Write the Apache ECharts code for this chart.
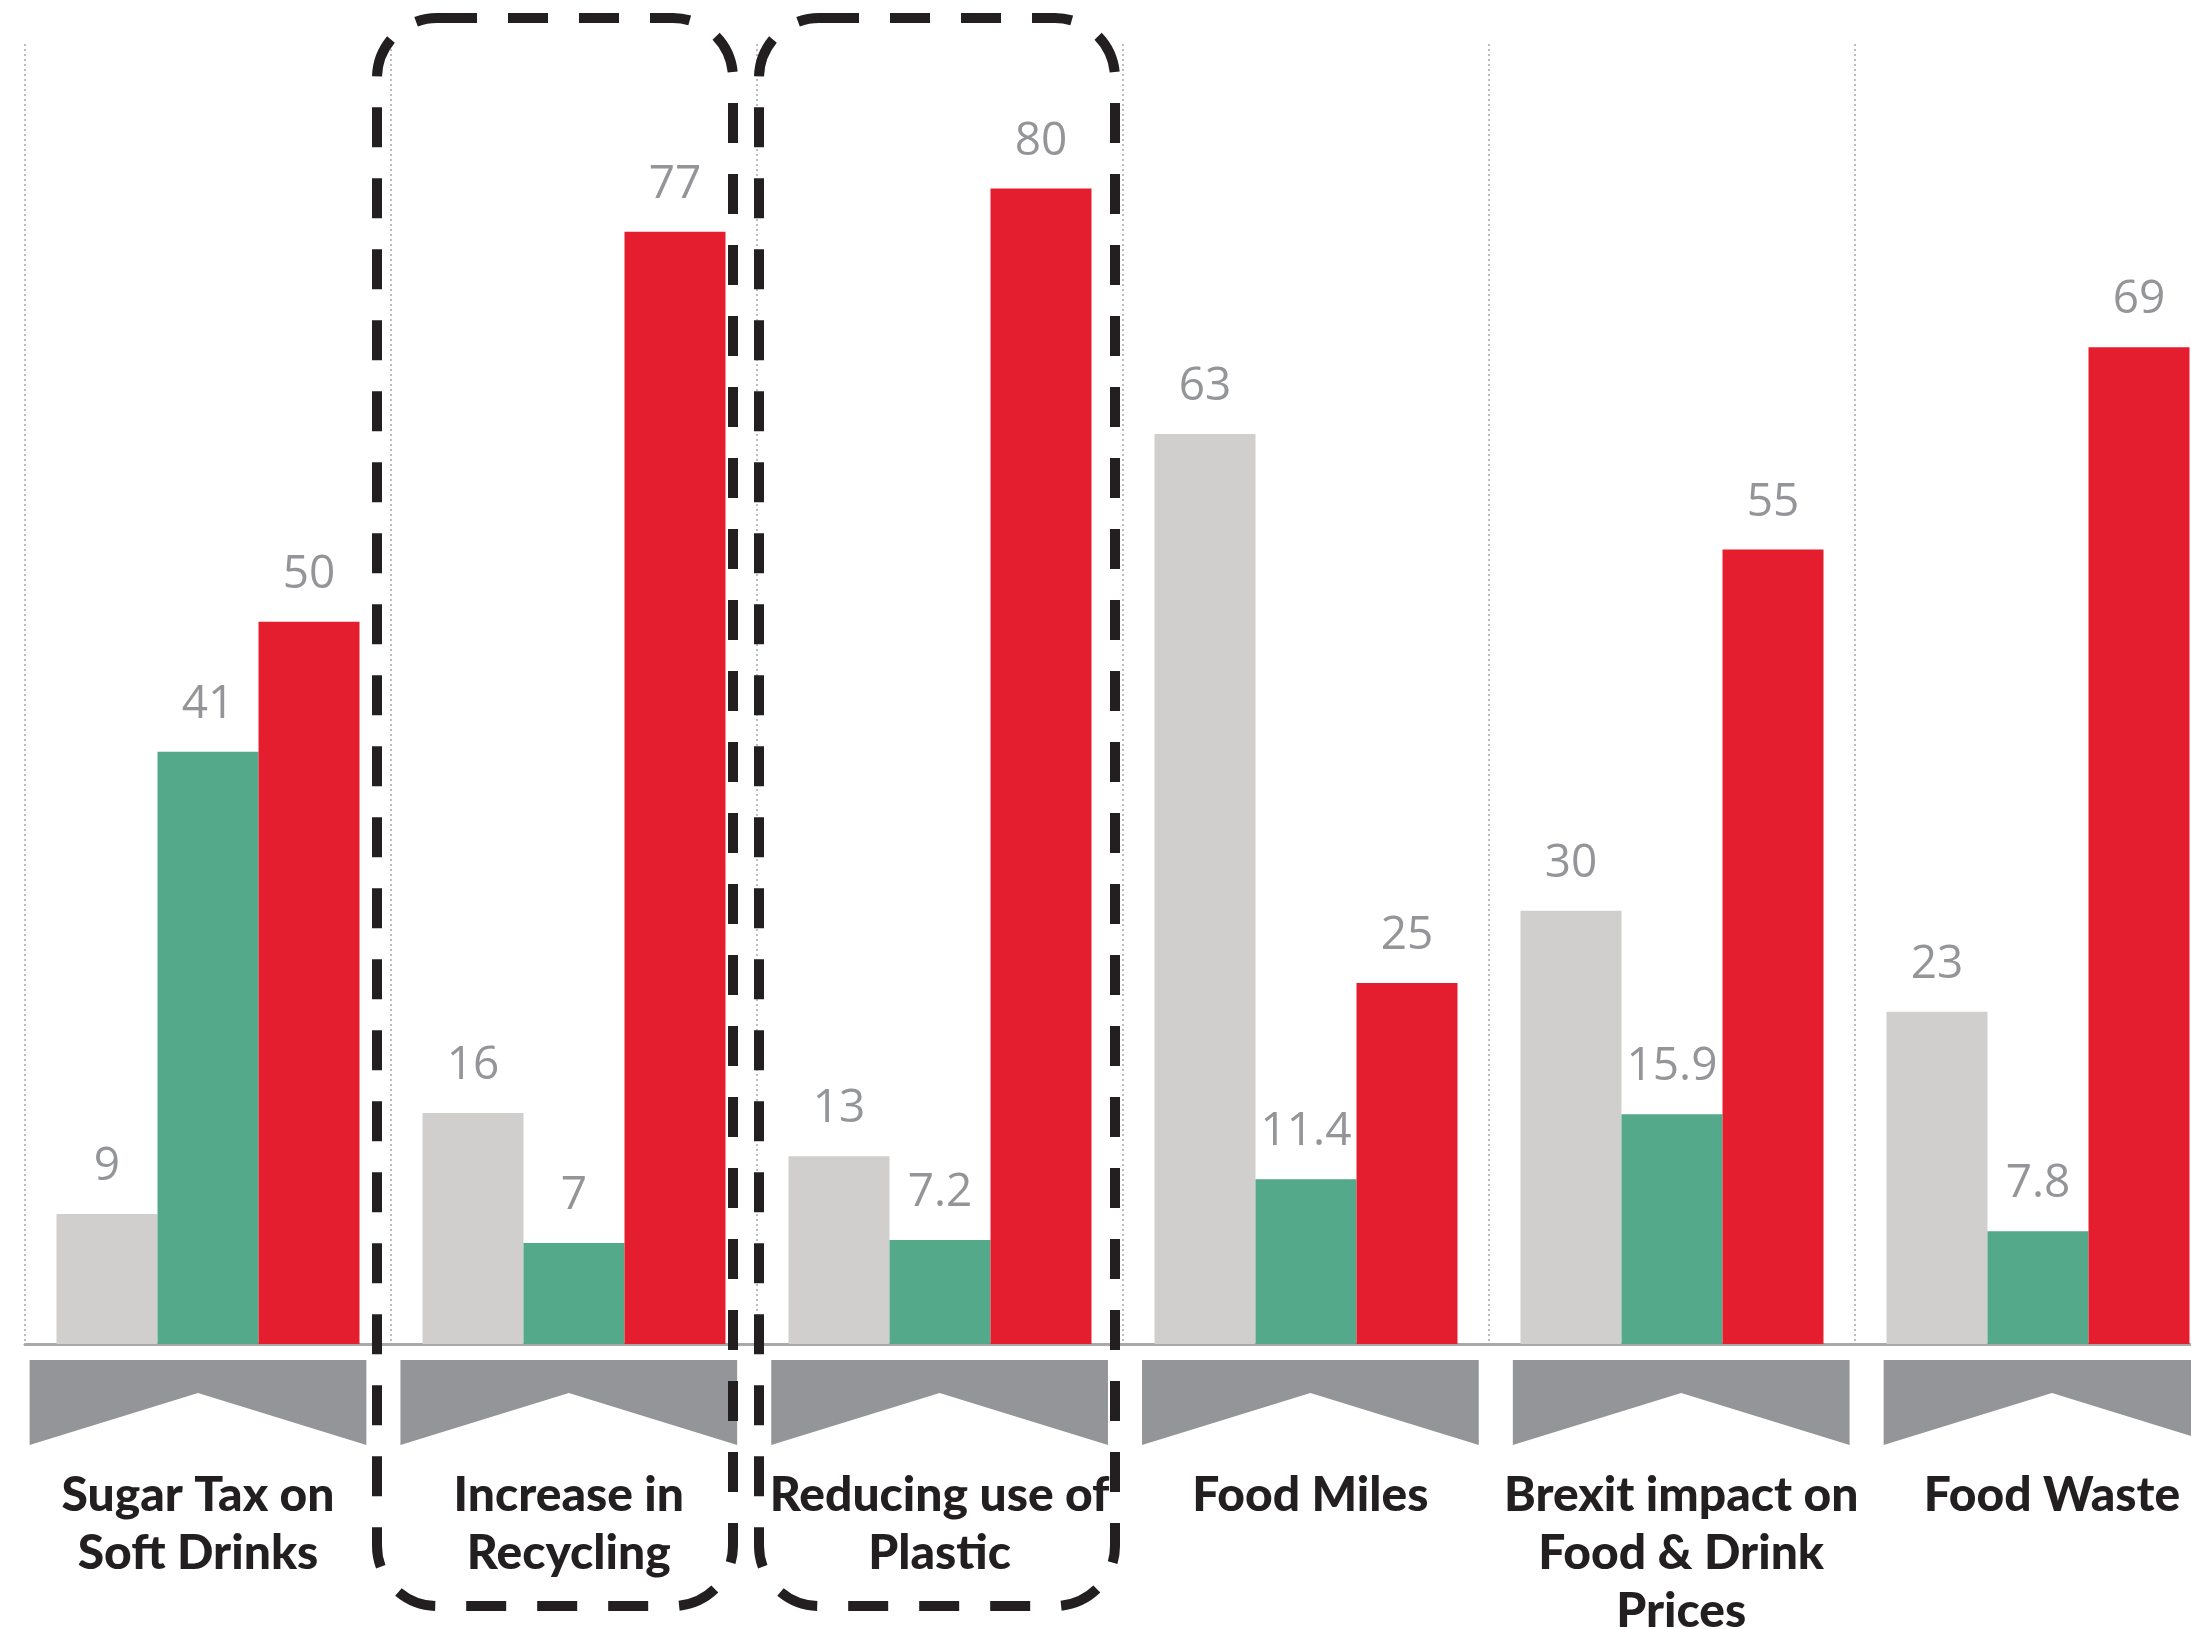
<!DOCTYPE html>
<html>
<head>
<meta charset="utf-8">
<script src="https://cdn.jsdelivr.net/npm/echarts@6/dist/echarts.min.js"></script>
<style>
  html, body { margin: 0; padding: 0; background: #ffffff; }
  #chart { width: 2191px; height: 1629px; }
</style>
</head>
<body>
<div id="chart"></div>
<script>
// Topics along the category axis
const categories = [
  'Sugar Tax on\nSoft Drinks',
  'Increase in\nRecycling',
  'Reducing use of\nPlastic',
  'Food Miles',
  'Brexit impact on\nFood & Drink\nPrices',
  'Food Waste'
];

// Values per series, one per topic
const greyValues  = [9, 16, 13, 63, 30, 23];
const greenValues = [41, 7, 7.2, 11.4, 15.9, 7.8];
const redValues   = [50, 77, 80, 25, 55, 69];

// Topics framed by a dashed outline
const framedTopics = [1, 2];

// ---- styling / layout constants ----
const COLORS = { grey: '#D0CFCD', green: '#53A98A', red: '#E41E2E' };
const LABEL_GREY = '#939598';
const INK = '#231F20';
const BAR_W = 101;
const FRAME_SHIFT = { 1: -19, 2: -3 };   // horizontal nudge of each frame from its category centre
const FRAME_W = 356;
const FRAME_TOP = 18;
const FRAME_BOTTOM = 1606;

const chart = echarts.init(document.getElementById('chart'), null, { renderer: 'canvas' });

const valueLabel = {
  show: true,
  position: 'top',
  distance: 24,
  fontFamily: '"Open Sans", sans-serif',
  fontSize: 46,
  color: LABEL_GREY
};

function barSeries(name, values, color) {
  return {
    name: name,
    type: 'bar',
    data: values,
    barWidth: BAR_W,
    barGap: '0%',
    itemStyle: { color: color },
    label: valueLabel,
    emphasis: { disabled: true },
    z: 2
  };
}

// Chevron banner plus topic caption under each category, placed from the axis geometry
function renderBanner(params, api) {
  const idx = api.value(0);
  const base = api.coord([idx, 0]);
  const catW = api.size([1, 0])[0];
  const cx = base[0] - 10 + idx * 4.8;
  const half = catW * 0.46;
  const y0 = base[1];
  return {
    type: 'group',
    silent: true,
    children: [
      {
        type: 'polygon',
        shape: {
          points: [
            [cx - half, y0 + 16],
            [cx + half, y0 + 16],
            [cx + half, y0 + 101],
            [cx, y0 + 49],
            [cx - half, y0 + 101]
          ]
        },
        style: { fill: '#939598' }
      },
      {
        type: 'text',
        style: {
          text: categories[idx],
          x: cx,
          y: y0 + 123,
          align: 'center',
          verticalAlign: 'top',
          fontFamily: 'Lato, "Open Sans", sans-serif',
          fontWeight: 900,
          fontSize: 48,
          lineHeight: 58,
          fill: INK
        }
      }
    ]
  };
}

const option = {
  backgroundColor: '#ffffff',
  animation: false,
  grid: { left: 25, width: 2196, top: 44, bottom: 285, containLabel: false, outerBoundsMode: 'none' },
  xAxis: {
    type: 'category',
    data: categories,
    boundaryGap: true,
    axisLine: { show: true, lineStyle: { color: '#a8a9ab', width: 3 } },
    axisTick: { show: false },
    axisLabel: { show: false },
    splitLine: {
      show: true,
      interval: 0,
      lineStyle: { color: '#bdbdbd', width: 2, type: [2, 3] }
    }
  },
  yAxis: {
    type: 'value',
    min: 0,
    max: 90,
    show: false,
    splitLine: { show: false }
  },
  series: [
    barSeries('grey', greyValues, COLORS.grey),
    barSeries('green', greenValues, COLORS.green),
    barSeries('red', redValues, COLORS.red),
    {
      type: 'custom',
      name: 'banners',
      renderItem: renderBanner,
      data: categories.map((c, i) => [i, 0]),
      encode: { x: 0, y: 1 },
      clip: false,
      silent: true,
      z: 1
    }
  ]
};

chart.setOption(option);

// Dashed rounded frames around the highlighted topics
const frames = framedTopics.map(function (idx) {
  const cx = chart.convertToPixel({ xAxisIndex: 0 }, idx) + FRAME_SHIFT[idx];
  return {
    type: 'rect',
    z: 100,
    silent: true,
    shape: {
      x: cx - FRAME_W / 2,
      y: FRAME_TOP,
      width: FRAME_W,
      height: FRAME_BOTTOM - FRAME_TOP,
      r: 60
    },
    style: {
      fill: 'none',
      stroke: INK,
      lineWidth: 10,
      lineDash: [40, 31],
      lineDashOffset: 0
    }
  };
});

chart.setOption({ graphic: frames });
</script>
</body>
</html>
